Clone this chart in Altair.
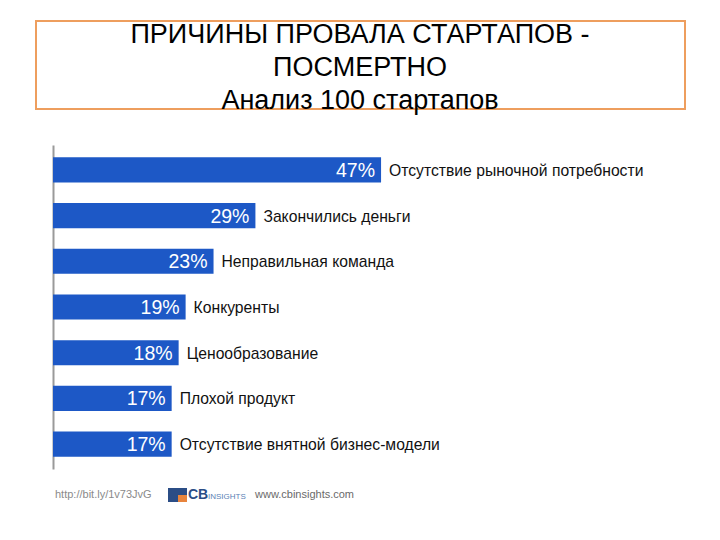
import altair as alt
import pandas as pd

categories = [
    "Отсутствие рыночной потребности",
    "Закончились деньги",
    "Неправильная команда",
    "Конкуренты",
    "Ценообразование",
    "Плохой продукт",
    "Отсутствие внятной бизнес-модели",
]
values = [47, 29, 23, 19, 18, 17, 17]
pct_labels = [f"{v}%" for v in values]

title_lines = ["ПРИЧИНЫ ПРОВАЛА СТАРТАПОВ -", "ПОСМЕРТНО", "Анализ 100 стартапов"]
footer_url = "http://bit.ly/1v73JvG"
footer_site = "www.cbinsights.com"

df = pd.DataFrame({"cat": categories, "val": values, "pct": pct_labels})

FONT = "Liberation Sans"
BLUE = "#1d58c6"

y_enc = alt.Y(
    "cat:N",
    sort=categories,
    scale=alt.Scale(paddingInner=0.45, paddingOuter=0.27),
    axis=alt.Axis(labels=False, ticks=False, title=None, grid=False,
                  domainColor="#9a9a9a", domainWidth=2),
)
x_scale = alt.Scale(domain=[0, 100], range=[0, 698])

base = alt.Chart(df)

bars = base.mark_bar(color=BLUE).encode(
    x=alt.X("val:Q", scale=x_scale, axis=None),
    y=y_enc,
)

pct_text = base.mark_text(align="right", baseline="middle", dx=-6, dy=1,
                          color="white", font=FONT, fontSize=19.5).encode(
    x=alt.X("val:Q", scale=x_scale, axis=None),
    y=y_enc,
    text="pct:N",
)

cat_text = base.mark_text(align="left", baseline="middle", dx=8, dy=1,
                          color="#111111", font=FONT, fontSize=15.7).encode(
    x=alt.X("val:Q", scale=x_scale, axis=None),
    y=y_enc,
    text="cat:N",
)

one = alt.Data(values=[{"a": 1}])

box = alt.Chart(one).mark_rect(fill=None, stroke="#EE9E5E", strokeWidth=2).encode(
    x=alt.value(-17), x2=alt.value(632), y=alt.value(-124), y2=alt.value(-36)
)

title_marks = [
    alt.Chart(one).mark_text(
        align="center", baseline="alphabetic", font=FONT, fontSize=27, color="black"
    ).encode(x=alt.value(307), y=alt.value(yy), text=alt.value(t))
    for t, yy in zip(title_lines, [-102, -69, -36])
]

footer_url_t = alt.Chart(one).mark_text(
    align="left", baseline="middle", font=FONT, fontSize=11, color="#8a8a8a"
).encode(x=alt.value(2), y=alt.value(350), text=alt.value(footer_url))

logo_a = alt.Chart(one).mark_rect(color="#2b4d86").encode(
    x=alt.value(115), x2=alt.value(134), y=alt.value(343), y2=alt.value(357)
)
logo_b = alt.Chart(one).mark_rect(color="#e8843c").encode(
    x=alt.value(125), x2=alt.value(134), y=alt.value(350), y2=alt.value(357)
)
logo_cb = alt.Chart(one).mark_text(
    align="left", baseline="middle", font=FONT, fontSize=14, fontWeight="bold",
    color="#2b4d86"
).encode(x=alt.value(135), y=alt.value(350), text=alt.value("CB"))
logo_ins = alt.Chart(one).mark_text(
    align="left", baseline="middle", font=FONT, fontSize=8, color="#5a7fb5"
).encode(x=alt.value(155), y=alt.value(352), text=alt.value("INSIGHTS"))

footer_site_t = alt.Chart(one).mark_text(
    align="left", baseline="middle", font=FONT, fontSize=11, color="#6a6a6a"
).encode(x=alt.value(202), y=alt.value(350), text=alt.value(footer_site))

chart = alt.layer(
    box, *title_marks, bars, pct_text, cat_text, footer_url_t, logo_a, logo_b,
    logo_cb, logo_ins, footer_site_t
).properties(
    width=614,
    height=324,
    autosize=alt.AutoSizeParams(type="none"),
    padding={"left": 45, "top": 137, "right": 45, "bottom": 63},
).configure_view(stroke=None)

chart.save("out.html", embed_options={"renderer": "svg", "actions": False})
